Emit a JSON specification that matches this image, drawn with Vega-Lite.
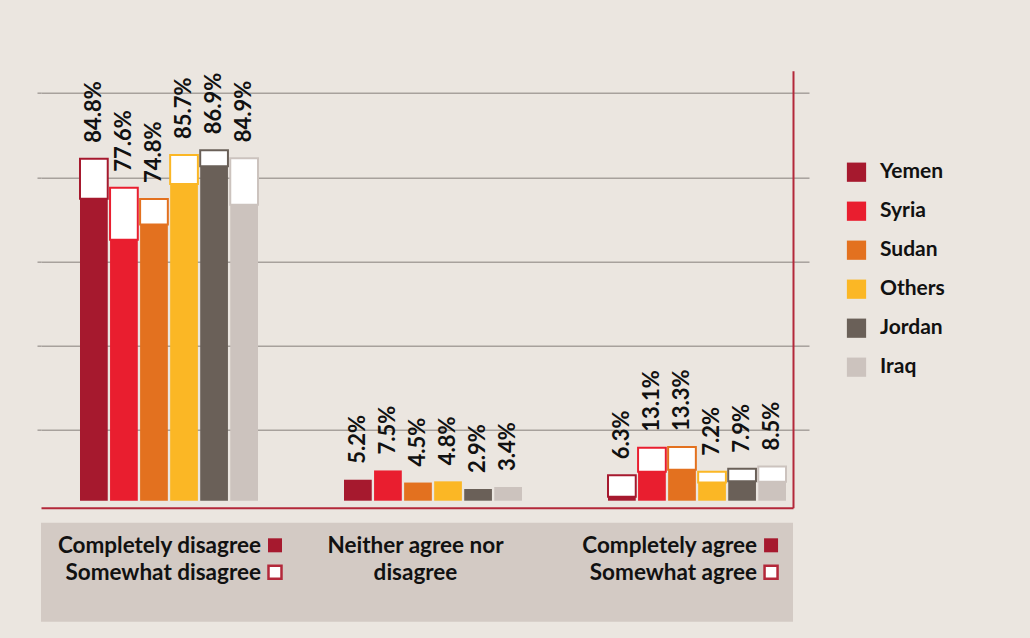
{
  "$schema": "https://vega.github.io/schema/vega-lite/v6.json",
  "autosize": {"type": "none"},
  "width": 752,
  "height": 437,
  "padding": {"left": 41, "top": 70.7, "right": 237, "bottom": 130.3},
  "background": "#EBE6E0",
  "config": {
    "view": {"stroke": null},
    "font": "Lato, DejaVu Sans Condensed, sans-serif"
  },
  "datasets": {
    "bars": [
      {"group": "Disagree", "country": "Yemen", "total": 84.8, "completely": 74.9},
      {"group": "Disagree", "country": "Syria", "total": 77.6, "completely": 64.7},
      {"group": "Disagree", "country": "Sudan", "total": 74.8, "completely": 68.5},
      {"group": "Disagree", "country": "Others", "total": 85.7, "completely": 78.5},
      {"group": "Disagree", "country": "Jordan", "total": 86.9, "completely": 82.9},
      {"group": "Disagree", "country": "Iraq", "total": 84.9, "completely": 73.4},
      {"group": "Neither", "country": "Yemen", "total": 5.2, "completely": 5.2},
      {"group": "Neither", "country": "Syria", "total": 7.5, "completely": 7.5},
      {"group": "Neither", "country": "Sudan", "total": 4.5, "completely": 4.5},
      {"group": "Neither", "country": "Others", "total": 4.8, "completely": 4.8},
      {"group": "Neither", "country": "Jordan", "total": 2.9, "completely": 2.9},
      {"group": "Neither", "country": "Iraq", "total": 3.4, "completely": 3.4},
      {"group": "Agree", "country": "Yemen", "total": 6.3, "completely": 1.0},
      {"group": "Agree", "country": "Syria", "total": 13.1, "completely": 7.2},
      {"group": "Agree", "country": "Sudan", "total": 13.3, "completely": 7.7},
      {"group": "Agree", "country": "Others", "total": 7.2, "completely": 4.5},
      {"group": "Agree", "country": "Jordan", "total": 7.9, "completely": 4.8},
      {"group": "Agree", "country": "Iraq", "total": 8.5, "completely": 4.7}
    ],
    "key": [
      {"group": "Disagree", "lines": ["Completely disagree", "Somewhat disagree"]},
      {"group": "Neither", "lines": ["Neither agree nor", "disagree"]},
      {"group": "Agree", "lines": ["Completely agree", "Somewhat agree"]}
    ]
  },
  "resolve": {"axis": {"y": "independent"}},
  "layer": [
    {
      "data": {"values": [{"part": "key box"}]},
      "mark": {"type": "rect", "color": "#D3CAC4"},
      "encoding": {
        "y": {"datum": -5.455, "type": "quantitative", "axis": null},
        "y2": {"datum": -30.0}
      }
    },
    {
      "data": {"name": "bars"},
      "mark": {"type": "bar"},
      "encoding": {
        "x": {
          "field": "group", "type": "nominal",
          "scale": {"domain": ["Disagree", "Neither", "Agree"], "paddingInner": 0.3258, "paddingOuter": 0.0871, "align": 0.848},
          "axis": {"orient": "bottom", "domain": true, "domainColor": "#B3283A", "domainWidth": 2, "ticks": false, "labels": false, "grid": false, "title": null}
        },
        "xOffset": {
          "field": "country", "type": "nominal",
          "scale": {"domain": ["Yemen", "Syria", "Sudan", "Others", "Jordan", "Iraq"], "paddingInner": 0.077, "paddingOuter": 0}
        },
        "y": {
          "field": "completely", "type": "quantitative",
          "scale": {"domain": [-1.736, 106.62], "nice": false, "zero": false},
          "axis": {"orient": "left", "values": [17.53, 38.41, 59.29, 80.17, 101.05], "grid": true, "gridColor": "#A7A19C", "gridWidth": 1.5, "ticks": true, "tickSize": 4, "tickColor": "#A7A19C", "tickWidth": 1.5, "labels": false, "domain": false, "title": null}
        },
        "color": {
          "field": "country", "type": "nominal",
          "scale": {"domain": ["Yemen", "Syria", "Sudan", "Others", "Jordan", "Iraq"], "range": ["#A6192E", "#E91E2F", "#E3711F", "#FBB725", "#6A6058", "#CCC3BE"]},
          "legend": {"orient": "none", "legendX": 805, "legendY": 91, "title": null, "symbolType": "square", "symbolSize": 370, "symbolStrokeWidth": 0, "labelFontSize": 21, "labelFontWeight": "bold", "labelColor": "#111111", "rowPadding": 17, "labelOffset": 13, "padding": 0}
        }
      }
    },
    {
      "data": {"name": "bars"},
      "transform": [{"filter": "datum.total > datum.completely"}],
      "mark": {"type": "bar", "fill": "white", "strokeWidth": 2},
      "encoding": {
        "x": {"field": "group", "type": "nominal"},
        "xOffset": {"field": "country", "type": "nominal"},
        "y": {
          "field": "completely", "type": "quantitative",
          "axis": {"orient": "right", "values": [17.53, 38.41, 59.29, 80.17, 101.05], "grid": false, "ticks": true, "tickSize": 16, "tickColor": "#A7A19C", "tickWidth": 1.5, "labels": false, "domain": true, "domainColor": "#B3283A", "domainWidth": 2, "title": null}
        },
        "y2": {"field": "total"},
        "stroke": {
          "field": "country", "type": "nominal",
          "scale": {"domain": ["Yemen", "Syria", "Sudan", "Others", "Jordan", "Iraq"], "range": ["#A6192E", "#E91E2F", "#E3711F", "#FBB725", "#6A6058", "#CCC3BE"]},
          "legend": null
        }
      }
    },
    {
      "data": {"name": "bars"},
      "mark": {"type": "text", "angle": 270, "align": "left", "baseline": "middle", "dx": 16, "fontSize": 22, "fontWeight": "bold", "color": "#111111", "text": {"expr": "format(datum.total, '.1f') + '%'"}},
      "encoding": {
        "x": {"field": "group", "type": "nominal"},
        "xOffset": {"field": "country", "type": "nominal"},
        "y": {"field": "total", "type": "quantitative", "axis": null}
      }
    },
    {
      "data": {"name": "key"},
      "transform": [{"filter": "datum.group === 'Disagree'"}],
      "mark": {"type": "text", "align": "right", "baseline": "alphabetic", "fontSize": 22.5, "fontWeight": "bold", "lineHeight": 27, "color": "#111111"},
      "encoding": {
        "x": {"field": "group", "type": "nominal", "bandPosition": 1.0169},
        "y": {"datum": -12.97, "type": "quantitative", "axis": null},
        "text": {"field": "lines"}
      }
    },
    {
      "data": {"name": "key"},
      "transform": [{"filter": "datum.group === 'Neither'"}],
      "mark": {"type": "text", "align": "center", "baseline": "alphabetic", "fontSize": 22.5, "fontWeight": "bold", "lineHeight": 27, "color": "#111111"},
      "encoding": {
        "x": {"field": "group", "type": "nominal", "bandPosition": 0.4017},
        "y": {"datum": -12.97, "type": "quantitative", "axis": null},
        "text": {"field": "lines"}
      }
    },
    {
      "data": {"name": "key"},
      "transform": [{"filter": "datum.group === 'Agree'"}],
      "mark": {"type": "text", "align": "right", "baseline": "alphabetic", "fontSize": 22.5, "fontWeight": "bold", "lineHeight": 27, "color": "#111111"},
      "encoding": {
        "x": {"field": "group", "type": "nominal", "bandPosition": 0.837},
        "y": {"datum": -12.97, "type": "quantitative", "axis": null},
        "text": {"field": "lines"}
      }
    },
    {
      "data": {"values": [{"group": "Disagree"}]},
      "mark": {"type": "point", "shape": "square", "size": 196, "filled": true, "color": "#A6192E", "opacity": 1},
      "encoding": {
        "x": {"field": "group", "type": "nominal", "bandPosition": 1.0955},
        "y": {"datum": -11.06, "type": "quantitative", "axis": null}
      }
    },
    {
      "data": {"values": [{"group": "Disagree"}]},
      "mark": {"type": "point", "shape": "square", "size": 169, "filled": true, "fill": "white", "stroke": "#B3283A", "strokeWidth": 2.5, "opacity": 1},
      "encoding": {
        "x": {"field": "group", "type": "nominal", "bandPosition": 1.0955},
        "y": {"datum": -17.75, "type": "quantitative", "axis": null}
      }
    },
    {
      "data": {"values": [{"group": "Agree"}]},
      "mark": {"type": "point", "shape": "square", "size": 196, "filled": true, "color": "#A6192E", "opacity": 1},
      "encoding": {
        "x": {"field": "group", "type": "nominal", "bandPosition": 0.916},
        "y": {"datum": -11.06, "type": "quantitative", "axis": null}
      }
    },
    {
      "data": {"values": [{"group": "Agree"}]},
      "mark": {"type": "point", "shape": "square", "size": 169, "filled": true, "fill": "white", "stroke": "#B3283A", "strokeWidth": 2.5, "opacity": 1},
      "encoding": {
        "x": {"field": "group", "type": "nominal", "bandPosition": 0.916},
        "y": {"datum": -17.75, "type": "quantitative", "axis": null}
      }
    }
  ]
}
